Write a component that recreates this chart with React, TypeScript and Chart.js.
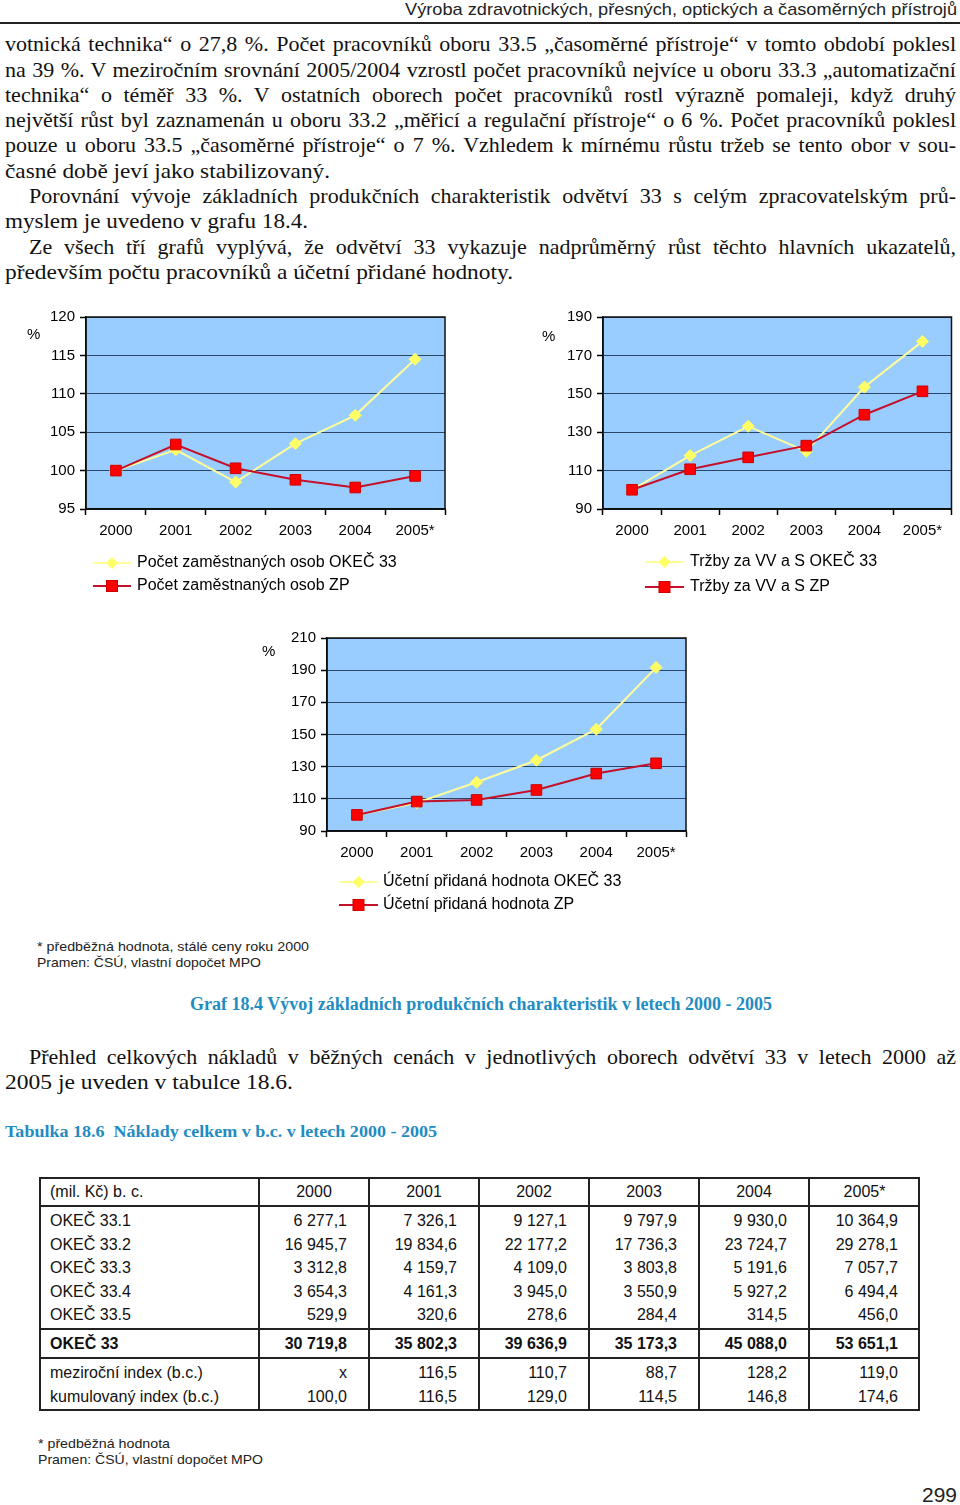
import React, { useEffect, useLayoutEffect, useRef } from 'react';
import { Chart, registerables } from 'chart.js';

Chart.register(...registerables);

// ---------- data ----------
const years = ['2000', '2001', '2002', '2003', '2004', '2005*'];

const empOkec = [100, 102.7, 98.5, 103.5, 107.2, 114.5];
const empZp = [100, 103.4, 100.3, 98.8, 97.8, 99.3];
const empLabels = ['Počet zaměstnaných osob OKEČ 33', 'Počet zaměstnaných osob ZP'];

const salesOkec = [100, 117.8, 133.1, 120.0, 153.5, 177.3];
const salesZp = [100, 110.7, 116.9, 123.0, 139.1, 151.3];
const salesLabels = ['Tržby za VV a S OKEČ 33', 'Tržby za VV a S ZP'];

const vaOkec = [100, 107.6, 120.3, 134.0, 153.3, 191.7];
const vaZp = [100, 108.3, 109.3, 115.5, 125.7, 132.1];
const vaLabels = ['Účetní přidaná hodnota OKEČ 33', 'Účetní přidaná hodnota ZP'];

const tableHead = ['(mil. Kč) b. c.', '2000', '2001', '2002', '2003', '2004', '2005*'];
const rowLabels = ['OKEČ 33.1', 'OKEČ 33.2', 'OKEČ 33.3', 'OKEČ 33.4', 'OKEČ 33.5'];
const rowValues = [
  ['6 277,1', '7 326,1', '9 127,1', '9 797,9', '9 930,0', '10 364,9'],
  ['16 945,7', '19 834,6', '22 177,2', '17 736,3', '23 724,7', '29 278,1'],
  ['3 312,8', '4 159,7', '4 109,0', '3 803,8', '5 191,6', '7 057,7'],
  ['3 654,3', '4 161,3', '3 945,0', '3 550,9', '5 927,2', '6 494,4'],
  ['529,9', '320,6', '278,6', '284,4', '314,5', '456,0'],
];
const totalLabel = 'OKEČ 33';
const totalValues = ['30 719,8', '35 802,3', '39 636,9', '35 173,3', '45 088,0', '53 651,1'];
const indexLabels = ['meziroční index (b.c.)', 'kumulovaný index (b.c.)'];
const indexValues = [
  ['x', '116,5', '110,7', '88,7', '128,2', '119,0'],
  ['100,0', '116,5', '129,0', '114,5', '146,8', '174,6'],
];

// ---------- styles ----------
const SERIF = '"Liberation Serif", "DejaVu Serif", "Times New Roman", serif';
const SANS = '"Liberation Sans", Arial, Helvetica, sans-serif';
const TEAL = '#1f8cc2';
const RED_LINE = '#c4102a';
const RED_FILL = '#ff0000';
const YEL_LINE = '#ffff99';
const YEL_FILL = '#ffff66';
const PLOT_BG = '#99ccff';
const GRID = '#2a4566';

Chart.defaults.font.family = SANS;

type TLProps = {
  text: string; x: number; y: number; w: number;
  mode: 'justify' | 'fit' | 'none';
  font: string; size: number; weight?: string | number; color?: string; dy?: number;
};

function TextLine({ text, x, y, w, mode, font, size, weight = 'normal', color = '#000', dy = 0 }: TLProps) {
  const ref = useRef<HTMLSpanElement>(null);
  useLayoutEffect(() => {
    const el = ref.current;
    if (!el) return;
    const apply = () => {
      el.style.wordSpacing = '0px';
      el.style.transform = 'none';
      const nat = el.getBoundingClientRect().width;
      const spaces = (text.match(/ /g) || []).length;
      if (mode === 'fit' || (mode !== 'none' && nat > w)) {
        el.style.transform = `scaleX(${w / nat})`;
      } else if (mode === 'justify' && spaces > 0) {
        el.style.wordSpacing = `${(w - nat) / spaces}px`;
      }
    };
    apply();
    const f = (document as any).fonts;
    if (f && f.ready) f.ready.then(apply);
  }, [text, w, mode]);
  return (
    <span
      ref={ref}
      style={{
        position: 'absolute', left: x, top: y - size / 2 + dy, whiteSpace: 'pre',
        transformOrigin: '0 50%', fontFamily: font, fontSize: size, fontWeight: weight as any,
        color, lineHeight: `${size}px`,
      }}
    >{text}</span>
  );
}

type Spec = {
  left: number; top: number; W: number; H: number;
  plot: { l: number; r: number; t: number; b: number };
  min: number; max: number; step: number;
  okec: number[]; zp: number[]; labels: string[];
  leg: { x0: number; x1: number; tx: number; y1: number; y2: number };
  pct: { x: number; y: number };
};

function LineChart({ spec }: { spec: Spec }) {
  const ref = useRef<HTMLCanvasElement>(null);
  useEffect(() => {
    const { W, H, plot, leg, pct } = spec;
    const deco = {
      id: 'deco',
      beforeDraw(chart: any) {
        const { ctx, chartArea: a } = chart;
        ctx.save();
        ctx.fillStyle = PLOT_BG;
        ctx.fillRect(a.left, a.top, a.right - a.left, a.bottom - a.top);
        ctx.restore();
      },
      beforeDatasetsDraw(chart: any) {
        const { ctx, chartArea: a } = chart;
        ctx.save();
        ctx.strokeStyle = '#111';
        ctx.lineWidth = 1.5;
        ctx.strokeRect(a.left, a.top, a.right - a.left, a.bottom - a.top);
        ctx.restore();
      },
      afterDraw(chart: any) {
        const ctx = chart.ctx as CanvasRenderingContext2D;
        ctx.save();
        ctx.fillStyle = '#000';
        ctx.font = `15px ${SANS}`;
        ctx.textBaseline = 'middle';
        ctx.textAlign = 'left';
        ctx.fillText('%', pct.x - 6, pct.y);
        const cx = (leg.x0 + leg.x1) / 2;
        // yellow
        ctx.beginPath();
        ctx.moveTo(leg.x0, leg.y1); ctx.lineTo(leg.x1, leg.y1);
        ctx.strokeStyle = YEL_LINE; ctx.lineWidth = 2; ctx.stroke();
        ctx.beginPath();
        ctx.moveTo(cx, leg.y1 - 6); ctx.lineTo(cx + 6, leg.y1); ctx.lineTo(cx, leg.y1 + 6); ctx.lineTo(cx - 6, leg.y1);
        ctx.closePath(); ctx.fillStyle = YEL_FILL; ctx.fill();
        // red
        ctx.beginPath();
        ctx.moveTo(leg.x0, leg.y2); ctx.lineTo(leg.x1, leg.y2);
        ctx.strokeStyle = RED_LINE; ctx.lineWidth = 2; ctx.stroke();
        ctx.fillStyle = RED_FILL;
        ctx.fillRect(cx - 5.5, leg.y2 - 5.5, 11, 11);
        ctx.strokeStyle = '#cc0000'; ctx.lineWidth = 1;
        ctx.strokeRect(cx - 5.5, leg.y2 - 5.5, 11, 11);
        ctx.fillStyle = '#000';
        ctx.font = `16px ${SANS}`;
        ctx.fillText(spec.labels[0], leg.tx, leg.y1);
        ctx.fillText(spec.labels[1], leg.tx, leg.y2);
        ctx.restore();
      },
    };
    const chart = new Chart(ref.current as HTMLCanvasElement, {
      type: 'line',
      data: {
        labels: years,
        datasets: [
          {
            label: spec.labels[1], data: spec.zp, borderColor: RED_LINE, borderWidth: 2,
            pointStyle: 'rect', pointRadius: 7.5, pointBackgroundColor: RED_FILL,
            pointBorderColor: '#cc0000', pointBorderWidth: 1, tension: 0,
          },
          {
            label: spec.labels[0], data: spec.okec, borderColor: YEL_LINE, borderWidth: 2,
            pointStyle: 'rectRot', pointRadius: 6, pointBackgroundColor: YEL_FILL,
            pointBorderColor: YEL_FILL, pointBorderWidth: 1, tension: 0,
          },
        ],
      },
      options: {
        responsive: false,
        animation: false,
        devicePixelRatio: 1,
        events: [],
        layout: { padding: { left: 0, right: W - plot.r, top: plot.t, bottom: 0 } },
        plugins: { legend: { display: false }, tooltip: { enabled: false } },
        scales: {
          x: {
            type: 'category',
            offset: true,
            grid: {
              display: true, drawOnChartArea: false, drawTicks: true, offset: true,
              tickLength: 6, tickColor: '#000', tickWidth: 1.5, color: '#000',
            },
            border: { display: true, color: '#000', width: 1.5 },
            ticks: { color: '#000', font: { size: 15 }, padding: 7, maxRotation: 0, autoSkip: false },
            afterFit: (s: any) => { s.height = H - plot.b; },
          },
          y: {
            min: spec.min, max: spec.max,
            ticks: { stepSize: spec.step, color: '#000', font: { size: 15 }, padding: 5 },
            grid: { color: GRID, lineWidth: 1, tickLength: 6, tickColor: '#000', tickWidth: 1.5 },
            border: { display: true, color: '#000', width: 1.5 },
            afterFit: (s: any) => { s.width = plot.l; },
          },
        },
      } as any,
      plugins: [deco],
    });
    return () => chart.destroy();
  }, []);
  return (
    <canvas
      ref={ref}
      width={spec.W}
      height={spec.H}
      style={{ position: 'absolute', left: spec.left, top: spec.top, width: spec.W, height: spec.H }}
    />
  );
}

const chart1: Spec = {
  left: 0, top: 300, W: 460, H: 300,
  plot: { l: 86, r: 445, t: 17, b: 209 },
  min: 95, max: 120, step: 5, okec: empOkec, zp: empZp, labels: empLabels,
  leg: { x0: 93, x1: 131, tx: 137, y1: 263, y2: 286 },
  pct: { x: 33, y: 35 },
};
const chart2: Spec = {
  left: 520, top: 300, W: 440, H: 300,
  plot: { l: 83, r: 437, t: 17, b: 209 },
  min: 90, max: 190, step: 20, okec: salesOkec, zp: salesZp, labels: salesLabels,
  leg: { x0: 125, x1: 164, tx: 170, y1: 262, y2: 287 },
  pct: { x: 28, y: 37 },
};
const chart3: Spec = {
  left: 250, top: 620, W: 450, H: 300,
  plot: { l: 77, r: 436, t: 18, b: 211 },
  min: 90, max: 210, step: 20, okec: vaOkec, zp: vaZp, labels: vaLabels,
  leg: { x0: 89, x1: 128, tx: 133, y1: 262, y2: 285 },
  pct: { x: 18, y: 32 },
};

// ---------- table ----------
const colEdges = [39, 259, 369, 479, 589, 699, 809, 920];
const tTop = 1177;
const tBottom = 1411;
const hLines = [1206, 1329, 1358];
const headY = 1192;
const rowYs = [1221, 1245, 1268, 1292, 1315];
const totalY = 1344;
const indexYs = [1373, 1397];

function Cell({ text, y, col, bold, align }: { text: string; y: number; col: number; bold?: boolean; align: 'left' | 'right' | 'center' }) {
  const l = colEdges[col];
  const r = colEdges[col + 1];
  const style: any = {
    position: 'absolute', top: y - 8, height: 16, lineHeight: '16px', fontFamily: SANS, fontSize: 16,
    fontWeight: bold ? 'bold' : 'normal', whiteSpace: 'pre', color: '#111',
  };
  if (align === 'left') { style.left = l + 11; }
  else if (align === 'right') { style.left = l; style.width = r - l - 22; style.textAlign = 'right'; }
  else { style.left = l; style.width = r - l; style.textAlign = 'center'; }
  return <div style={style}>{text}</div>;
}

function DataTable() {
  const lines: any[] = [];
  lines.push(<div key="outer" style={{ position: 'absolute', left: colEdges[0], top: tTop, width: colEdges[7] - colEdges[0], height: tBottom - tTop, border: '2px solid #222', boxSizing: 'border-box' }} />);
  colEdges.slice(1, 7).forEach((x, i) => {
    lines.push(<div key={'v' + i} style={{ position: 'absolute', left: x - 1, top: tTop, width: 2, height: tBottom - tTop, background: '#222' }} />);
  });
  hLines.forEach((y, i) => {
    lines.push(<div key={'h' + i} style={{ position: 'absolute', left: colEdges[0], top: y - 1, width: colEdges[7] - colEdges[0], height: 2, background: '#222' }} />);
  });
  const cells: any[] = [];
  tableHead.forEach((t, i) => cells.push(<Cell key={'hd' + i} text={t} y={headY} col={i} align={i === 0 ? 'left' : 'center'} />));
  rowLabels.forEach((lab, r) => {
    cells.push(<Cell key={'rl' + r} text={lab} y={rowYs[r]} col={0} align="left" />);
    rowValues[r].forEach((v, c) => cells.push(<Cell key={`rv${r}_${c}`} text={v} y={rowYs[r]} col={c + 1} align="right" />));
  });
  cells.push(<Cell key="tl" text={totalLabel} y={totalY} col={0} align="left" bold />);
  totalValues.forEach((v, c) => cells.push(<Cell key={'tv' + c} text={v} y={totalY} col={c + 1} align="right" bold />));
  indexLabels.forEach((lab, r) => {
    cells.push(<Cell key={'il' + r} text={lab} y={indexYs[r]} col={0} align="left" />);
    indexValues[r].forEach((v, c) => cells.push(<Cell key={`iv${r}_${c}`} text={v} y={indexYs[r]} col={c + 1} align="right" />));
  });
  return <>{lines}{cells}</>;
}

// ---------- body text ----------
const bodyLines: { t: string; x: number; y: number; w: number; mode: 'justify' | 'fit' }[] = [
  { t: 'votnická technika“ o 27,8 %. Počet pracovníků oboru 33.5 „časoměrné přístroje“ v tomto období poklesl', x: 5, y: 45, w: 951, mode: 'justify' },
  { t: 'na 39 %. V meziročním srovnání 2005/2004 vzrostl počet pracovníků nejvíce u oboru 33.3 „automatizační', x: 5, y: 71, w: 951, mode: 'justify' },
  { t: 'technika“ o téměř 33 %. V ostatních oborech počet pracovníků rostl výrazně pomaleji, když druhý', x: 5, y: 96, w: 951, mode: 'justify' },
  { t: 'největší růst byl zaznamenán u oboru 33.2 „měřicí a regulační přístroje“ o 6 %. Počet pracovníků poklesl', x: 5, y: 121, w: 951, mode: 'justify' },
  { t: 'pouze u oboru 33.5 „časoměrné přístroje“ o 7 %. Vzhledem k mírnému růstu tržeb se tento obor v sou-', x: 5, y: 146, w: 951, mode: 'justify' },
  { t: 'časné době jeví jako stabilizovaný.', x: 5, y: 172, w: 325, mode: 'fit' },
  { t: 'Porovnání vývoje základních produkčních charakteristik odvětví 33 s celým zpracovatelským prů-', x: 29, y: 197, w: 927, mode: 'justify' },
  { t: 'myslem je uvedeno v grafu 18.4.', x: 5, y: 222, w: 303, mode: 'fit' },
  { t: 'Ze všech tří grafů vyplývá, že odvětví 33 vykazuje nadprůměrný růst těchto hlavních ukazatelů,', x: 29, y: 248, w: 927, mode: 'justify' },
  { t: 'především počtu pracovníků a účetní přidané hodnoty.', x: 5, y: 273, w: 508, mode: 'fit' },
];

export default function App() {
  return (
    <div style={{ position: 'absolute', left: 0, top: 0, width: 960, height: 1505, background: '#fff', overflow: 'hidden' }}>
      <TextLine text="Výroba zdravotnických, přesných, optických a časoměrných přístrojů" x={405} y={9} w={552} mode="fit" font={SANS} size={17} color="#222" />
      <div style={{ position: 'absolute', left: 0, top: 22, width: 960, height: 2, background: '#222' }} />
      {bodyLines.map((l, i) => (
        <TextLine key={i} text={l.t} x={l.x} y={l.y} w={l.w} mode={l.mode} font={SERIF} size={22} dy={-1} color="#111" />
      ))}

      <LineChart spec={chart1} />
      <LineChart spec={chart2} />
      <LineChart spec={chart3} />

      <TextLine text="* předběžná hodnota, stálé ceny roku 2000" x={37} y={946} w={272} mode="fit" font={SANS} size={13} color="#222" />
      <TextLine text="Pramen: ČSÚ, vlastní dopočet MPO" x={37} y={962} w={224} mode="fit" font={SANS} size={13} color="#222" />

      <TextLine text="Graf 18.4 Vývoj základních produkčních charakteristik v letech 2000 - 2005" x={190} y={1005} w={582} mode="fit" font={SERIF} size={18} weight="bold" color={TEAL} dy={-1} />

      <TextLine text="Přehled celkových nákladů v běžných cenách v jednotlivých oborech odvětví 33 v letech 2000 až" x={29} y={1058} w={927} mode="justify" font={SERIF} size={22} dy={-1} color="#111" />
      <TextLine text="2005 je uveden v tabulce 18.6." x={5} y={1083} w={288} mode="fit" font={SERIF} size={22} dy={-1} color="#111" />

      <TextLine text="Tabulka 18.6  Náklady celkem v b.c. v letech 2000 - 2005" x={5} y={1132} w={432} mode="fit" font={SERIF} size={17} weight="bold" color={TEAL} dy={-1} />

      <DataTable />

      <TextLine text="* předběžná hodnota" x={38} y={1443} w={132} mode="fit" font={SANS} size={13} color="#222" />
      <TextLine text="Pramen: ČSÚ, vlastní dopočet MPO" x={38} y={1459} w={225} mode="fit" font={SANS} size={13} color="#222" />
      <TextLine text="299" x={922} y={1495} w={35} mode="fit" font={SANS} size={20} color="#222" />
    </div>
  );
}
